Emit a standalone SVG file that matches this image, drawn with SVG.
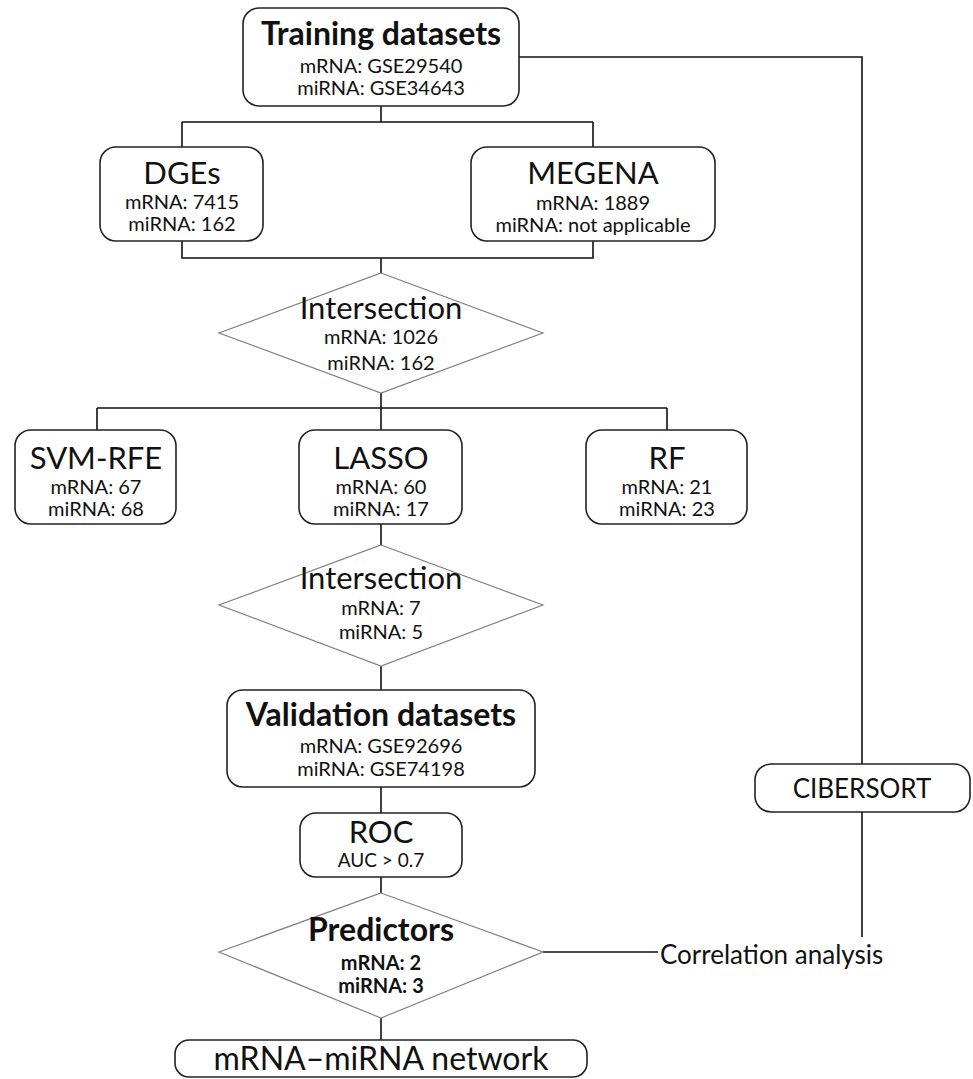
<svg xmlns="http://www.w3.org/2000/svg" width="973" height="1079" viewBox="0 0 973 1079">
<style>
.box{fill:#fff;stroke:#222;stroke-width:1.6}
.dia{fill:#fff;stroke:#808080;stroke-width:1.2}
.con{fill:none;stroke:#111;stroke-width:1.6}
text{font-family:Lato,"Liberation Sans",sans-serif;fill:#111;text-anchor:middle}
.t{font-size:31px}
.tb{font-size:32px;font-weight:bold}
.s{font-size:20px}
.sb{font-size:20px;font-weight:bold}
</style>
<rect width="973" height="1079" fill="#fff"/>
<g id="connectors">
<path class="con" d="M519 57H862V764M862 812V937"/>
<path class="con" d="M381 106V122M182 122H593M182 122V147M593 122V147"/>
<path class="con" d="M182 241V258H593V241M381 258V273"/>
<path class="con" d="M381 393V408M97 408H667M97 408V430M381 408V430M667 408V430"/>
<path class="con" d="M381 524V545M381 666V690M381 787V813M381 877V893M381 1018V1040"/>
<path class="con" d="M543 952H658"/>
</g>
<g id="training"><rect class="box" x="243" y="8" width="276" height="98" rx="16"/>
<text class="tb" x="381" y="45">Training datasets</text>
<text class="s" x="381" y="73">mRNA: GSE29540</text>
<text class="s" x="381" y="95">miRNA: GSE34643</text></g>
<g id="dges"><rect class="box" x="100" y="147" width="163" height="94" rx="16"/>
<text class="t" x="182" y="184">DGEs</text>
<text class="s" x="182" y="209">mRNA: 7415</text>
<text class="s" x="182" y="231">miRNA: 162</text></g>
<g id="megena"><rect class="box" x="471" y="147" width="244" height="94" rx="16"/>
<text class="t" x="593" y="184">MEGENA</text>
<text class="s" x="593" y="210">mRNA: 1889</text>
<text class="s" x="593" y="232">miRNA: not applicable</text></g>
<g id="intersection1"><polygon class="dia" points="381,273 543,333 381,393 219,333"/>
<text class="t" x="381" y="319">Intersection</text>
<text class="s" x="381" y="344">mRNA: 1026</text>
<text class="s" x="381" y="370">miRNA: 162</text></g>
<g id="svmrfe"><rect class="box" x="15" y="430" width="161" height="94" rx="16"/>
<text class="t" x="96" y="469">SVM-RFE</text>
<text class="s" x="96" y="494">mRNA: 67</text>
<text class="s" x="96" y="516">miRNA: 68</text></g>
<g id="lasso"><rect class="box" x="299" y="430" width="163" height="94" rx="16"/>
<text class="t" x="381" y="469">LASSO</text>
<text class="s" x="381" y="494">mRNA: 60</text>
<text class="s" x="381" y="516">miRNA: 17</text></g>
<g id="rf"><rect class="box" x="586" y="430" width="161" height="94" rx="16"/>
<text class="t" x="667" y="469">RF</text>
<text class="s" x="667" y="494">mRNA: 21</text>
<text class="s" x="667" y="516">miRNA: 23</text></g>
<g id="intersection2"><polygon class="dia" points="381,545 543,605 381,666 219,605"/>
<text class="t" x="381" y="589">Intersection</text>
<text class="s" x="381" y="615">mRNA: 7</text>
<text class="s" x="381" y="639">miRNA: 5</text></g>
<g id="validation"><rect class="box" x="227" y="690" width="308" height="97" rx="16"/>
<text class="tb" x="381" y="726">Validation datasets</text>
<text class="s" x="381" y="753">mRNA: GSE92696</text>
<text class="s" x="381" y="776">miRNA: GSE74198</text></g>
<g id="roc"><rect class="box" x="300" y="813" width="162" height="64" rx="16"/>
<text class="t" x="381" y="843">ROC</text>
<text class="s" x="381" y="867" style="font-size:19px">AUC &gt; 0.7</text></g>
<g id="predictors"><polygon class="dia" points="381,893 543,952 381,1018 219,952"/>
<text class="tb" x="381" y="941">Predictors</text>
<text class="sb" x="381" y="970">mRNA: 2</text>
<text class="sb" x="381" y="993">miRNA: 3</text></g>
<g id="cibersort"><rect class="box" x="755" y="764" width="215" height="48" rx="16"/>
<text x="862" y="798" style="font-size:26px">CIBERSORT</text></g>
<g id="correlation"><text x="660" y="964" style="font-size:26px;text-anchor:start">Correlation analysis</text></g>
<g id="network"><rect class="box" x="175" y="1040" width="412" height="37" rx="14"/>
<text x="381" y="1070" style="font-size:32px">mRNA–miRNA network</text></g>
</svg>
